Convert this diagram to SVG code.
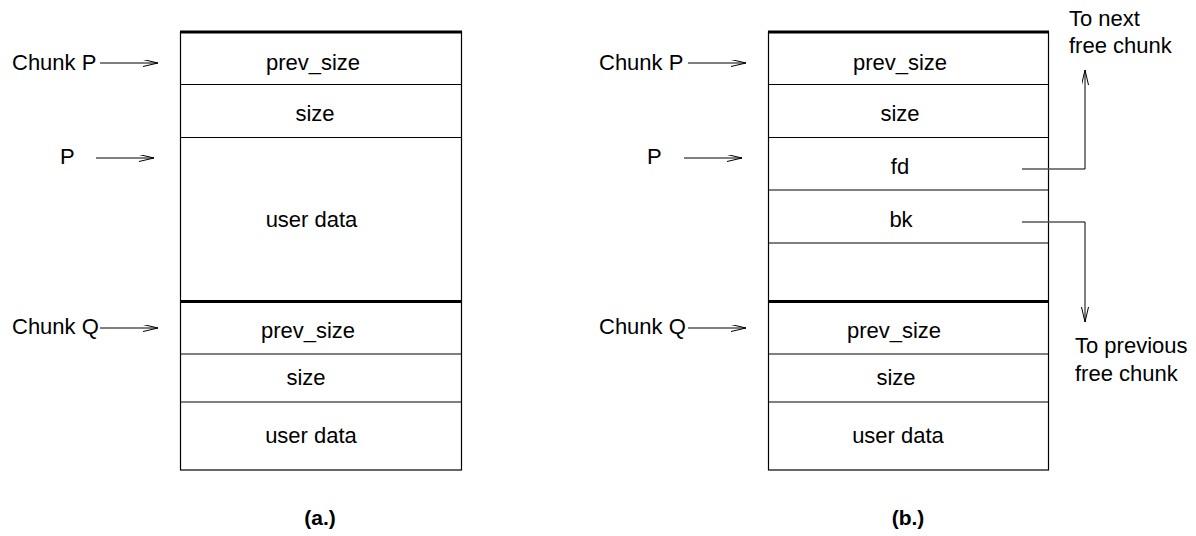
<svg xmlns="http://www.w3.org/2000/svg" width="1196" height="536" viewBox="0 0 1196 536">
<style>
text{font-family:"Liberation Sans",Arial,sans-serif;font-size:22px;fill:#000}
.c{text-anchor:middle}
.cap{font-weight:bold;font-size:21px;text-anchor:middle}
.box{fill:none;stroke:#000;stroke-width:1.2}
.ln{stroke:#000;stroke-width:1.2;fill:none}
.thick{stroke:#000;stroke-width:3.2;fill:none}
.ptr{stroke:#000;stroke-width:1;fill:none}
.gp{stroke:#555;stroke-width:1.4;fill:none}
</style>
<defs>
<marker id="ah" markerWidth="16" markerHeight="8" refX="15" refY="3.5" orient="auto" markerUnits="userSpaceOnUse">
<path d="M0,0 L15,3.5 L0,7" fill="none" stroke="#000" stroke-width="1"/>
</marker>
</defs>
<rect width="1196" height="536" fill="#fff"/>

<g id="chunkA">
<rect class="box" x="180.5" y="32" width="281" height="438"/>
<line class="thick" x1="180" y1="32" x2="462" y2="32"/>
<line class="ln" x1="180" y1="84.5" x2="462" y2="84.5"/>
<line class="ln" x1="180" y1="137.5" x2="462" y2="137.5"/>
<line class="thick" x1="180" y1="301.5" x2="462" y2="301.5"/>
<line class="ln" x1="180" y1="354" x2="462" y2="354"/>
<line class="ln" x1="180" y1="402" x2="462" y2="402"/>
<text class="c" x="313" y="70">prev_size</text>
<text class="c" x="315" y="121">size</text>
<text class="c" x="311.5" y="227">user data</text>
<text class="c" x="308" y="338">prev_size</text>
<text class="c" x="306" y="385">size</text>
<text class="c" x="311" y="443">user data</text>
</g>

<g id="labelsA">
<text x="12" y="70">Chunk P</text>
<text x="60" y="164">P</text>
<text x="12" y="334">Chunk Q</text>
<text class="cap" x="320" y="525">(a.)</text>
</g>

<g id="chunkB">
<rect class="box" x="768.5" y="32" width="280" height="438"/>
<line class="thick" x1="768" y1="32" x2="1049" y2="32"/>
<line class="ln" x1="768" y1="84.5" x2="1049" y2="84.5"/>
<line class="ln" x1="768" y1="137.5" x2="1049" y2="137.5"/>
<line class="ln" x1="768" y1="190" x2="1049" y2="190"/>
<line class="ln" x1="768" y1="243" x2="1049" y2="243"/>
<line class="thick" x1="768" y1="301.5" x2="1049" y2="301.5"/>
<line class="ln" x1="768" y1="354" x2="1049" y2="354"/>
<line class="ln" x1="768" y1="402" x2="1049" y2="402"/>
<text class="c" x="900" y="70">prev_size</text>
<text class="c" x="900" y="121">size</text>
<text class="c" x="900" y="174">fd</text>
<text class="c" x="901" y="227">bk</text>
<text class="c" x="894" y="338">prev_size</text>
<text class="c" x="896" y="385">size</text>
<text class="c" x="898" y="443">user data</text>
</g>

<g id="labelsB">
<text x="599" y="70">Chunk P</text>
<text x="647" y="164">P</text>
<text x="599" y="334">Chunk Q</text>
<text x="1069" y="26">To next</text>
<text x="1069" y="53">free chunk</text>
<text x="1075" y="353">To previous</text>
<text x="1075" y="381">free chunk</text>
<text class="cap" x="908" y="525">(b.)</text>
</g>

<g id="connectors">
<line class="ptr" x1="100" y1="63" x2="158" y2="63" marker-end="url(#ah)"/>
<line class="ptr" x1="96" y1="158" x2="154" y2="158" marker-end="url(#ah)"/>
<line class="ptr" x1="100" y1="328" x2="158" y2="328" marker-end="url(#ah)"/>
<line class="ptr" x1="688" y1="63" x2="746" y2="63" marker-end="url(#ah)"/>
<line class="ptr" x1="684" y1="158" x2="742" y2="158" marker-end="url(#ah)"/>
<line class="ptr" x1="688" y1="328" x2="746" y2="328" marker-end="url(#ah)"/>
<polyline class="gp" points="1022,169 1085,169"/>
<polyline class="ptr" points="1085,169 1085,70" marker-end="url(#ah)"/>
<polyline class="gp" points="1022,222 1085,222"/>
<polyline class="ptr" points="1085,222 1085,322" marker-end="url(#ah)"/>
</g>
</svg>
